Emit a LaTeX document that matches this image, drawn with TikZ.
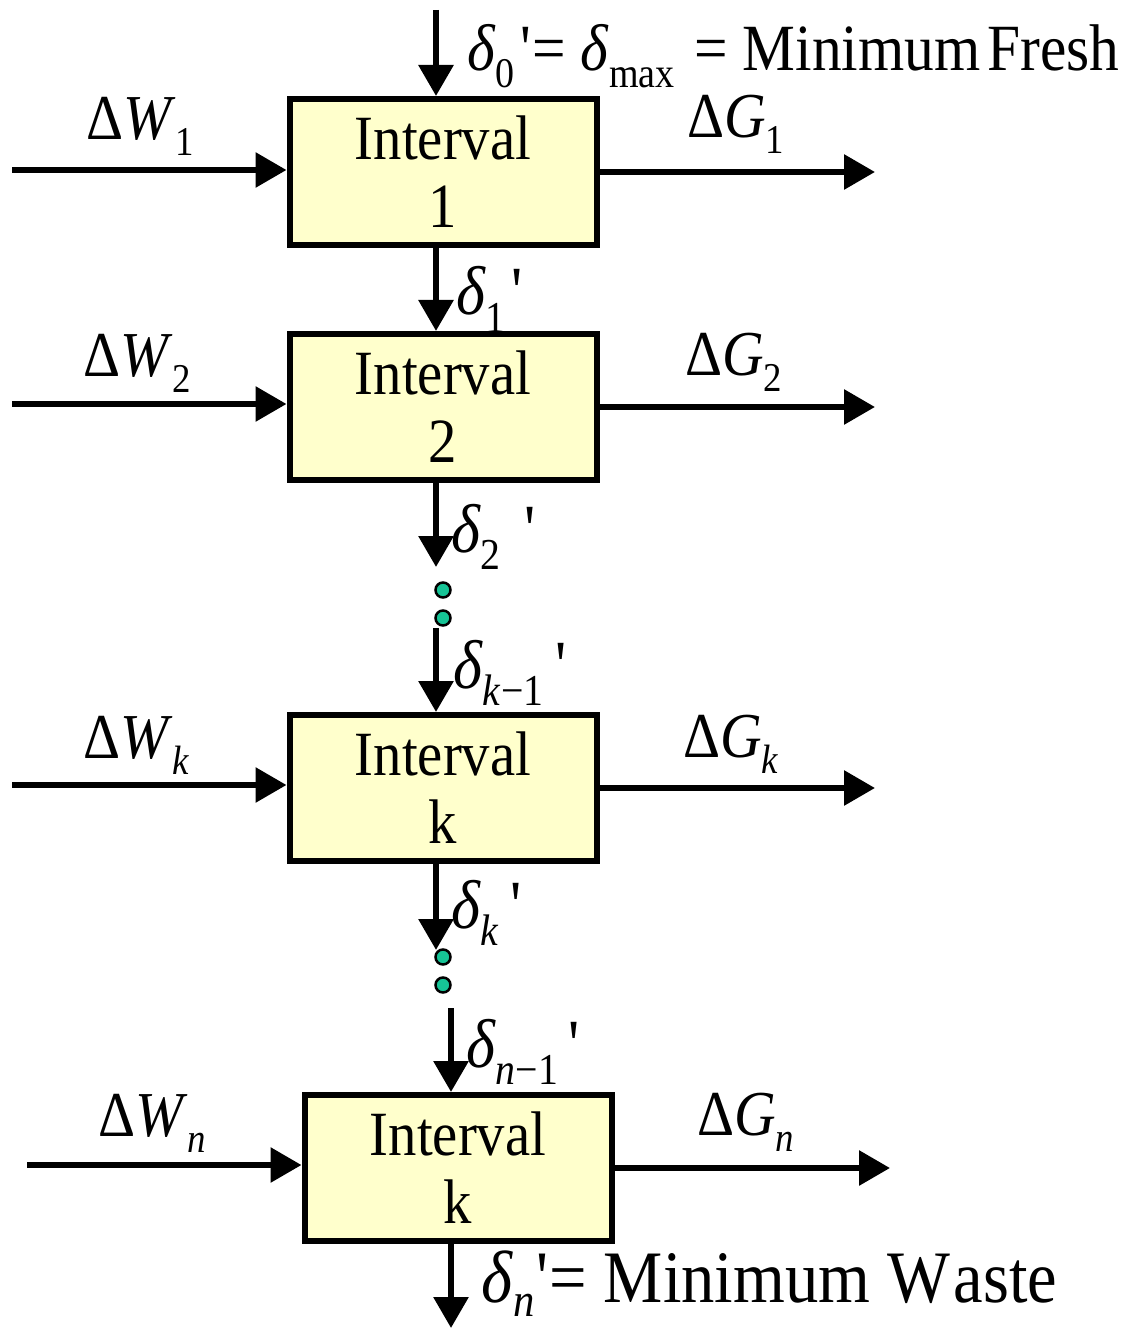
\documentclass[tikz,border=0pt]{standalone}
\usepackage{fontspec}
\setmainfont{Liberation Serif}[FakeStretch=0.9]
\usetikzlibrary{arrows.meta}
\definecolor{boxfill}{RGB}{255,255,204}
\definecolor{dotfill}{RGB}{22,196,150}
% lowered, smaller subscript
\newcommand\lowsub[1]{\raisebox{-0.25em}{\fontsize{0.64em}{0.64em}\selectfont #1}}
\newcommand\dl{\textit{δ}}
% delta with subscript and a prime set after a gap
\newcommand\dlab[2]{\dl\lowsub{#1}\hspace{#2}\textquotesingle}
\begin{document}
\begin{tikzpicture}[x=1pt,y=-1pt,
  interval/.style={draw, line width=6pt, fill=boxfill, minimum width=307pt,
    minimum height=146pt, align=center, inner sep=0pt,
    font=\fontsize{63}{68}\selectfont},
  flow/.style={line width=6pt, -{Triangle[width=34pt,length=31pt]}},
  lab/.style={anchor=base west, inner sep=0pt, font=\fontsize{64}{64}\selectfont},
  dlabel/.style={lab, font=\fontsize{69}{69}\selectfont},
  dot/.style={circle, draw, line width=2.5pt, fill=dotfill, minimum size=15pt, inner sep=0pt}]
\useasboundingbox (0,0) rectangle (1129,1329);

% interval boxes
\node[interval] (b1) at (443,172)  {Interval\\1};
\node[interval] (b2) at (443,407)  {Interval\\2};
\node[interval] (bk) at (443,788)  {Interval\\k};
\node[interval] (bn) at (458,1168) {Interval\\k};

% vertical flow
\coordinate (src) at (436,10);
\draw[flow] (src) -- (src |- b1.north);
\draw[flow] (b1.south -| src) -- (b2.north -| src);
\coordinate (e2) at (436,567);
\draw[flow] (b2.south -| e2) -- (e2);
\coordinate (s3) at (436,628);
\draw[flow] (s3) -- (s3 |- bk.north);
\coordinate (e4) at (436,950);
\draw[flow] (bk.south -| e4) -- (e4);
\coordinate (s5) at (451,1008);
\draw[flow] (s5) -- (s5 |- bn.north);
\coordinate (e6) at (451,1328);
\draw[flow] (bn.south -| e6) -- (e6);

% continuation dots
\node[dot] (d1) at (443,590) {};
\node[dot] (d2) at (443,618) {};
\node[dot] (d3) at (443,957) {};
\node[dot] (d4) at (443,985) {};

% side streams
\coordinate (w1) at (12,170);  \draw[flow] (w1) -- (w1 -| b1.west);
\coordinate (g1) at (875,172); \draw[flow] (b1.east) -- (g1);
\coordinate (w2) at (12,404);  \draw[flow] (w2) -- (w2 -| b2.west);
\coordinate (g2) at (875,407); \draw[flow] (b2.east) -- (g2);
\coordinate (wk) at (12,785);  \draw[flow] (wk) -- (wk -| bk.west);
\coordinate (gk) at (875,788); \draw[flow] (bk.east) -- (gk);
\coordinate (wn) at (27,1165); \draw[flow] (wn) -- (wn -| bn.west);
\coordinate (gn) at (890,1168);\draw[flow] (bn.east) -- (gn);

% stream labels
\node[lab] (lw1) at (86,140)  {Δ\textit{W}\lowsub{1}};
\node[lab] (lg1) at (687,138) {Δ\textit{G}\lowsub{1}};
\node[lab] (lw2) at (83,376)  {Δ\textit{W}\lowsub{2}};
\node[lab] (lg2) at (685,375) {Δ\textit{G}\lowsub{2}};
\node[lab] (lwk) at (83,758)  {Δ\textit{W}\lowsub{\textit{k}}};
\node[lab] (lgk) at (683,757) {Δ\textit{G}\lowsub{\textit{k}}};
\node[lab] (lwn) at (98,1136) {Δ\textit{W}\lowsub{\textit{n}}};
\node[lab] (lgn) at (697,1135){Δ\textit{G}\lowsub{\textit{n}}};

% flow labels
\node[lab, font=\fontsize{66}{66}\selectfont] (l0) at (467,71)
  {\dlab{0}{6pt}= \dl\lowsub{max}\hspace{0.3em}= Minimum\hspace{-0.12em} Fresh};
\node[dlabel] (l1) at (456,315) {\dlab{1}{6pt}};
\node[dlabel] (l2) at (451,552) {\dlab{2}{24pt}};
\node[dlabel] (lk1) at (453,688) {\dlab{\textit{k}−1}{12pt}};
\node[dlabel] (lk) at (451,928) {\dlab{\textit{k}}{11pt}};
\node[dlabel] (ln1) at (466,1067) {\dlab{\textit{n}−1}{10pt}};
\node[lab, font=\fontsize{74}{74}\selectfont] (ln) at (481,1302)
  {\dl\raisebox{-0.2em}{\fontsize{0.64em}{0.64em}\selectfont\textit{n}}\hspace{2pt}\textquotesingle= Minimum W\hspace{0.05em}aste};
\end{tikzpicture}
\end{document}
